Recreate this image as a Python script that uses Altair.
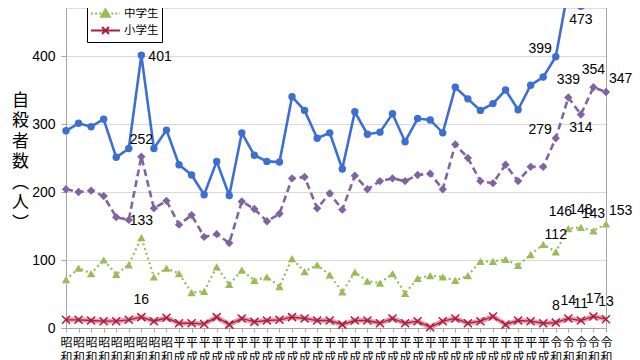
import altair as alt
import pandas as pd

# ---- data ----
years = ([f"昭和{n}" for n in range(55, 64)]
         + ["平成元"] + [f"平成{n}" for n in range(2, 31)]
         + ["令和元", "令和2", "令和3", "令和4", "令和5"])

total = [290, 301, 296, 307, 251, 264, 401, 264, 291, 240, 225, 196, 245, 195, 287,
         254, 245, 244, 340, 320, 279, 287, 234, 318, 285, 288, 315, 274, 308, 306,
         287, 354, 337, 320, 330, 350, 321, 357, 369, 399, 499, 473, 514, 513]
high = [204, 200, 202, 194, 163, 159, 252, 176, 187, 152, 166, 134, 138, 125, 186,
        175, 157, 168, 220, 222, 176, 198, 174, 224, 204, 216, 220, 216, 225, 227,
        204, 270, 250, 216, 213, 240, 216, 237, 237, 279, 339, 314, 354, 347]
middle = [71, 88, 80, 100, 79, 93, 133, 75, 88, 80, 52, 54, 90, 64, 85,
          70, 75, 61, 102, 83, 93, 78, 53, 82, 69, 66, 80, 51, 73, 77,
          75, 70, 77, 98, 98, 101, 92, 108, 123, 112, 146, 148, 143, 153]
elem = [12, 12, 11, 10, 10, 12, 16, 10, 15, 7, 7, 6, 16, 5, 14,
        9, 11, 12, 16, 14, 11, 11, 5, 11, 11, 7, 14, 7, 10, 1,
        10, 14, 7, 10, 17, 5, 11, 10, 7, 8, 14, 11, 17, 13]

series_names = ["合計", "高校生", "中学生", "小学生"]
series_values = {"合計": total, "高校生": high, "中学生": middle, "小学生": elem}
colors = ["#3C6FD0", "#8064A2", "#9BBB59", "#B01C3C"]

# which points carry a value label, and where it sits
label_points = [
    ("合計", "昭和61", "right"), ("合計", "令和元", "left"), ("合計", "令和3", "below"),
    ("高校生", "昭和61", "above"), ("高校生", "令和元", "left"), ("高校生", "令和2", "above"),
    ("高校生", "令和3", "below"), ("高校生", "令和4", "above"), ("高校生", "令和5", "aboveright"),
    ("中学生", "昭和61", "above"), ("中学生", "令和元", "above"), ("中学生", "令和2", "aboveleft"),
    ("中学生", "令和3", "above"), ("中学生", "令和4", "above"), ("中学生", "令和5", "aboveright"),
    ("小学生", "昭和61", "above"), ("小学生", "令和元", "above"), ("小学生", "令和2", "above"),
    ("小学生", "令和3", "above"), ("小学生", "令和4", "above"), ("小学生", "令和5", "above"),
]

rows = []
for s in series_names:
    for y, v in zip(years, series_values[s]):
        rows.append({"year": y, "value": v, "series": s})
df = pd.DataFrame(rows)

lab_rows = []
for s, y, pos in label_points:
    lab_rows.append({"year": y, "value": series_values[s][years.index(y)], "series": s, "pos": pos})
ldf = pd.DataFrame(lab_rows)

# ---- styling ----
NUMFONT = "Liberation Sans Narrow, Liberation Sans, sans-serif"
CJK = "Noto Sans CJK JP"

xscale = alt.Scale(type="point", domain=years, padding=0)
yscale = alt.Scale(domain=[0, 600], range=[320, -88], nice=False)

xaxis = alt.Axis(labelExpr="split(datum.label, '')", labelAngle=0, labelBaseline="top",
                 labelAlign="center", labelLineHeight=15, labelFont=CJK, labelFontSize=12,
                 labelColor="#000", labelPadding=5, labelOverlap=False, labelBound=False,
                 tickSize=4, tickColor="#a6a6a6", domainColor="#a6a6a6", grid=False, title=None)
X = alt.X("year:N", sort=years, scale=xscale, title=None, axis=xaxis)
Y = alt.Y("value:Q", scale=yscale,
          axis=alt.Axis(values=[0, 100, 200, 300, 400, 500, 600], labelFont=NUMFONT, labelFontSize=14,
                        labelColor="#000", labelPadding=6, tickSize=5, tickColor="#a6a6a6",
                        domainColor="#a6a6a6", gridColor="#d9d9d9", grid=True,
                        title=["自", "殺", "者", "数", "︵", "人", "︶"], titleAngle=0,
                        titleFont=CJK, titleFontSize=17, titleFontWeight="normal",
                        titleLineHeight=20.5, titleX=-46, titleY=84, titleAlign="center",
                        titleBaseline="top", titleColor="#000"))


def base(name):
    return alt.Chart(df).transform_filter(alt.datum.series == name).encode(x=X, y=Y)


layers = []
# 小学生
layers.append(base("小学生").mark_line(color="#d9788f", strokeWidth=5, opacity=0.7))
layers.append(base("小学生").mark_line(color=colors[3], strokeWidth=1.3))
layers.append(base("小学生").mark_point(shape="M-1,-1L1,1M-1,1L1,-1", size=64, filled=False,
                                       strokeWidth=1.5, color=colors[3], opacity=1))
# 中学生
layers.append(base("中学生").mark_line(color=colors[2], strokeWidth=2.2, strokeDash=[2, 3],
                                      strokeCap="butt"))
layers.append(base("中学生").mark_point(shape="triangle-up", size=70, filled=True,
                                       color=colors[2], opacity=1))
# 高校生
layers.append(base("高校生").mark_line(color=colors[1], strokeWidth=2.6, strokeDash=[7, 4]))
layers.append(base("高校生").mark_point(shape="diamond", size=70, filled=True,
                                       color=colors[1], opacity=1))
# 合計
layers.append(base("合計").mark_line(color=colors[0], strokeWidth=2.6))
layers.append(base("合計").mark_point(shape="circle", size=55, filled=True,
                                     color=colors[0], opacity=1))

# value labels
placements = {
    "above": dict(align="center", dx=0, dy=-17),
    "below": dict(align="center", dx=0, dy=14),
    "right": dict(align="left", dx=7, dy=2),
    "left": dict(align="right", dx=-4, dy=-8),
    "aboveleft": dict(align="center", dx=-8, dy=-17),
    "aboveright": dict(align="left", dx=3, dy=-13),
}
for pos, kw in placements.items():
    layers.append(
        alt.Chart(ldf).transform_filter(alt.datum.pos == pos)
        .mark_text(font=NUMFONT, fontSize=14, color="#000", baseline="middle", **kw)
        .encode(x=X, y=Y, text="value:Q")
    )

main = alt.layer(*layers)

# legend (custom line+marker symbols) and right-hand frame line
def dotted(step=0.28, dash=0.14):
    segs = []
    x = -1.0
    while x < 1.0:
        segs.append(f"M{x:.2f},0H{min(x + dash, 1.0):.2f}")
        x += step
    return "".join(segs)

circle = "M0.28,0A0.28,0.28,0,1,1,-0.28,0A0.28,0.28,0,1,1,0.28,0Z"
paths = [
    "M-1,0H1" + circle,
    "M-1,0H-0.62M-0.42,0H0M0.2,0H0.58M0.78,0H1" + "M0,-0.32L0.32,0L0,0.32L-0.32,0Z",
    dotted() + "M0,-0.3L0.3,0.22L-0.3,0.22Z",
    "M-1,0H1" + "M-0.24,-0.24L0.24,0.24M-0.24,0.24L0.24,-0.24",
]

leg = alt.Legend(title=None, orient="none", legendX=21, legendY=-40, direction="vertical",
                 fillColor="white", strokeColor="#000", padding=3, symbolSize=841,
                 clipHeight=17, rowPadding=0, symbolStrokeWidth=2, symbolOffset=0,
                 labelFont=CJK, labelFontSize=11.5, labelColor="#000", labelOffset=3,
                 symbolOpacity=1)

legend_layer = alt.Chart(df).transform_filter("false").mark_point(
    filled=True, size=841, strokeWidth=2, opacity=1
).encode(
    x=X,
    y=alt.Y("value:Q", scale=yscale,
            axis=alt.Axis(orient="right", labels=False, ticks=False, grid=False,
                          domainColor="#a6a6a6", title=None)),
    fill=alt.Fill("series:N", scale=alt.Scale(domain=series_names, range=colors), legend=leg),
    stroke=alt.Stroke("series:N", scale=alt.Scale(domain=series_names, range=colors), legend=leg),
    shape=alt.Shape("series:N", scale=alt.Scale(domain=series_names, range=paths), legend=leg),
)

chart = (
    alt.layer(main, legend_layer)
    .resolve_axis(y="independent")
    .properties(width=540, height=320,
                padding={"left": 58, "top": 0, "right": 26, "bottom": 40},
                autosize=alt.AutoSizeParams(type="none"))
    .configure_view(stroke=None)
    .configure(background="white")
)

chart.save("out.html", embed_options={"renderer": "svg", "actions": False})
